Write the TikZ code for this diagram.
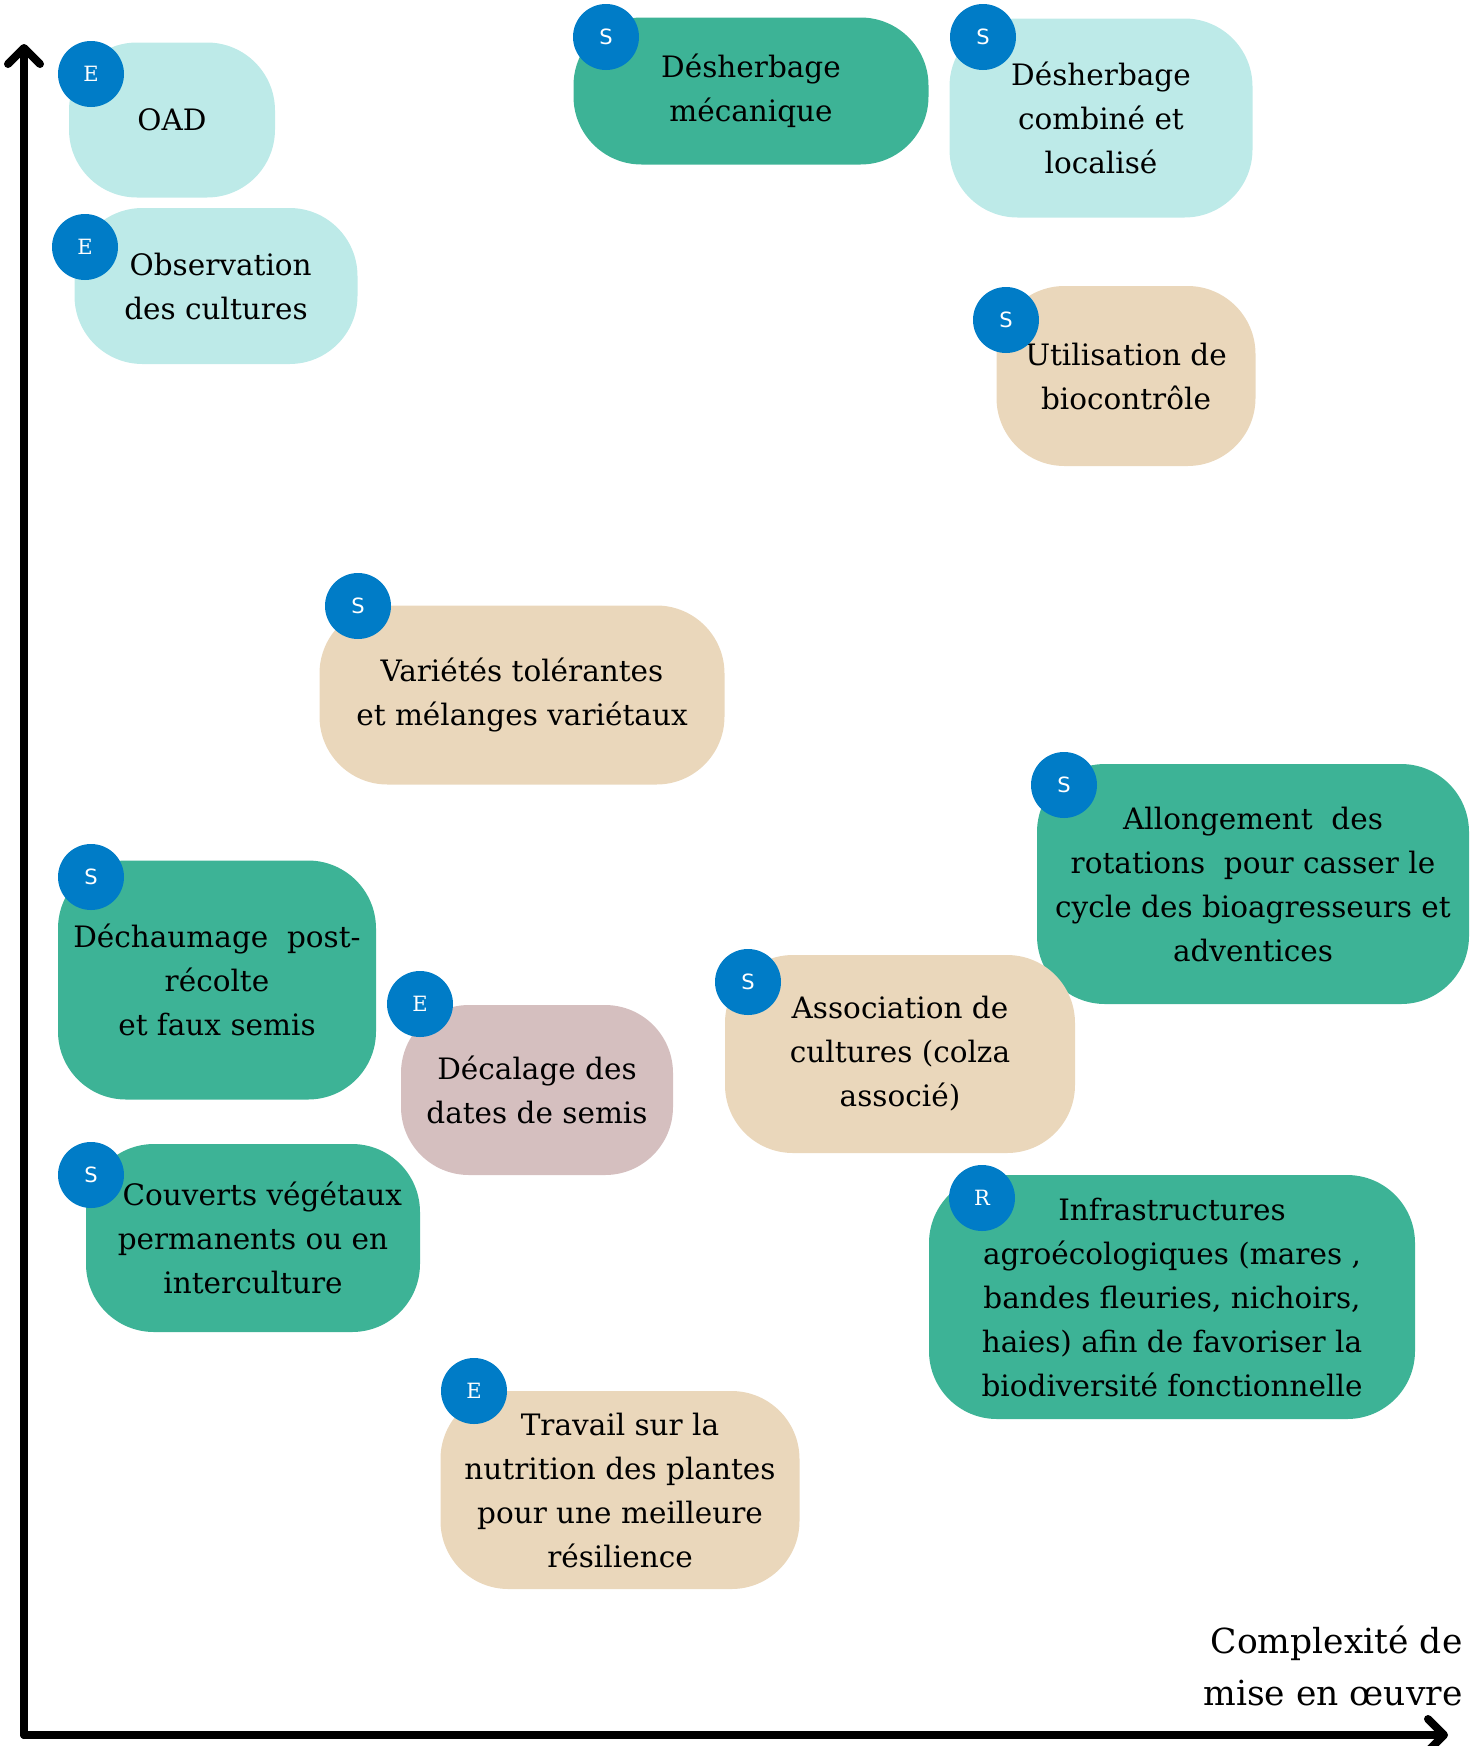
\documentclass[tikz,border=0pt]{standalone}
\usepackage{fontspec}
\setmainfont{DejaVu Serif}
\newfontfamily\badgesans{DejaVu Sans}
\usepackage{xcolor}
\usetikzlibrary{arrows.meta}
\definecolor{boxcyan}{HTML}{BDEAE8}
\definecolor{boxgreen}{HTML}{3DB396}
\definecolor{boxbeige}{HTML}{EAD7BB}
\definecolor{boxmauve}{HTML}{D5BFBF}
\definecolor{badgeblue}{HTML}{007CC7}

\begin{document}
\begin{tikzpicture}[x=1pt,y=-1pt,
  box/.style={rectangle,rounded corners=68pt,inner sep=0pt,align=center,
    font=\fontsize{29.5}{44}\selectfont},
  badge/.style={circle,fill=badgeblue,text=white,minimum size=66pt,inner sep=0pt,
    font=\fontsize{21}{21}\selectfont},
  sbadge/.style={badge,font=\badgesans\fontsize{21}{21}\selectfont},
  axis/.style={line width=8pt,line cap=round,
    -{Straight Barb[length=16pt,width=32pt,round]}}]
\useasboundingbox (0,0) rectangle (1478,1746);

% axes
\coordinate (origin) at (24,1735);
\coordinate (ytop) at (24,44);
\coordinate (xend) at (1448,1735);
\draw[axis] (origin) -- (ytop);
\draw[axis] (origin) -- (xend);
\node[align=right,anchor=north east,font=\fontsize{34.5}{52}\selectfont] (xlabel)
  at (1466,1622) {Complexité de\\mise en œuvre};

% boxes
\node[box,fill=boxcyan,minimum width=206pt,minimum height=155pt] (oad) at (172,120) {OAD};
\node[box,fill=boxcyan,minimum width=283pt,minimum height=156pt] (obs) at (216,286)
  {\ Observation\\des cultures};
\node[box,fill=boxgreen,minimum width=355pt,minimum height=147pt] (dmeca) at (751,91)
  {Désherbage\\mécanique};
\node[box,fill=boxcyan,minimum width=303pt,minimum height=199pt] (dcomb) at (1101,118)
  {Désherbage\\combiné et\\localisé};
\node[box,fill=boxbeige,minimum width=259pt,minimum height=180pt] (bioc) at (1126,376)
  {Utilisation de\\biocontrôle};
\node[box,fill=boxbeige,minimum width=405pt,minimum height=179pt] (vari) at (522,695)
  {Variétés tolérantes\\et mélanges variétaux};
\node[box,fill=boxgreen,minimum width=432pt,minimum height=240pt] (allong) at (1253,884)
  {Allongement\ \ des\\rotations\ \ pour casser le\\cycle des bioagresseurs et\\adventices};
\node[box,fill=boxgreen,minimum width=318pt,minimum height=239pt] (dechau) at (217,980)
  {Déchaumage\ \ post-\\récolte\\et faux semis};
\node[box,fill=boxmauve,minimum width=272pt,minimum height=170pt] (decal) at (537,1090)
  {Décalage des\\dates de semis};
\node[box,fill=boxbeige,minimum width=350pt,minimum height=198pt] (assoc) at (900,1054)
  {Association de\\cultures (colza\\associé)};
\node[box,fill=boxgreen,minimum width=334pt,minimum height=188pt] (couv) at (253,1238)
  {\ \ Couverts végétaux\\permanents ou en\\interculture};
\node[box,fill=boxgreen,minimum width=486pt,minimum height=244pt] (infra) at (1172,1297)
  {Infrastructures\\agroécologiques (mares ,\\bandes fleuries, nichoirs,\\haies) afin de favoriser la\\biodiversité fonctionnelle};
\node[box,fill=boxbeige,minimum width=359pt,minimum height=198pt] (trav) at (620,1490)
  {Travail sur la\\nutrition des plantes\\pour une meilleure\\résilience};

% badges
\node[badge] (b-oad) at (91,74) {E};
\node[badge] (b-obs) at (85,247) {E};
\node[sbadge] (b-dmeca) at (606,37) {S};
\node[sbadge] (b-dcomb) at (983,37) {S};
\node[sbadge] (b-bioc) at (1006,320) {S};
\node[sbadge] (b-vari) at (358,606) {S};
\node[sbadge] (b-allong) at (1064,785) {S};
\node[sbadge] (b-dechau) at (91,877) {S};
\node[badge] (b-decal) at (420,1004) {E};
\node[sbadge] (b-assoc) at (748,982) {S};
\node[sbadge] (b-couv) at (91,1175) {S};
\node[badge] (b-infra) at (982,1198) {R};
\node[badge] (b-trav) at (474,1391) {E};
\end{tikzpicture}
\end{document}
